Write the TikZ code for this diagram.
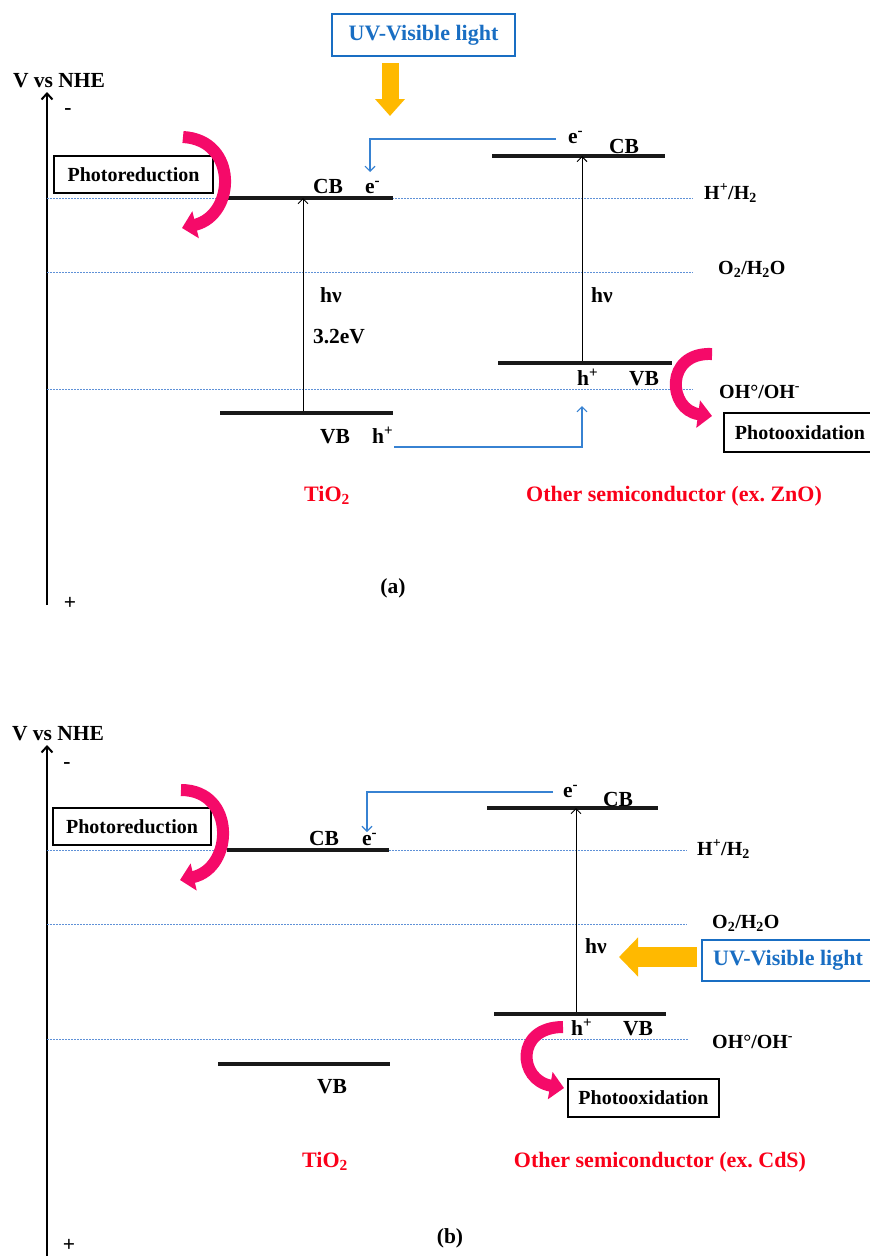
\documentclass[tikz,border=0pt]{standalone}
\usepackage{fontspec}
\setmainfont{Liberation Serif}
\usetikzlibrary{arrows.meta}
\frenchspacing
\definecolor{redoxblue}{RGB}{95,145,215}
\definecolor{linkblue}{RGB}{55,130,210}
\definecolor{uvblue}{RGB}{25,110,195}
\definecolor{sunyellow}{RGB}{255,185,0}
\definecolor{hotpink}{RGB}{245,10,105}
\definecolor{labelred}{RGB}{250,0,25}
\tikzset{
  lbl/.style={font=\fontsize{21.5}{24}\selectfont\bfseries, inner sep=0pt},
  smalllbl/.style={font=\fontsize{20}{23}\selectfont\bfseries, inner sep=0pt},
  redlbl/.style={inner sep=0pt, text=labelred, font=\fontsize{22}{25}\selectfont\bfseries},
  vaxis/.style={line width=2pt, -{Straight Barb[length=6pt,width=11pt]}},
  redox/.style={redoxblue, line width=0.8pt, dash pattern=on 2pt off 1pt},
  lvl/.style={line width=3.6pt, black!90},
  excite/.style={line width=1pt, -{Straight Barb[length=5pt,width=10pt]}},
  elink/.style={linkblue, line width=1.1pt, -{Straight Barb[length=5pt,width=10pt]}},
  rbox/.style={draw, line width=1.8pt, fill=white, smalllbl, inner sep=0pt},
  uvbox/.style={draw=uvblue, line width=1.8pt, text=uvblue, inner sep=0pt,
    font=\fontsize{22}{25}\selectfont\bfseries},
  pinkarrow/.style={hotpink, line width=12pt, -{Triangle[length=14pt,width=27pt]}},
  sunarrow/.style={sunyellow, -{Triangle[length=17pt,width=29pt]}}
}
\begin{document}
\begin{tikzpicture}[x=1pt,y=-1pt]
\useasboundingbox (0,0) rectangle (870,1256);
% (a)
\coordinate (botA) at (47,605);
\coordinate (topA) at (47,92);
\draw[vaxis] (botA) -- (topA);
\node[lbl,anchor=base] (nheA) at (59,87) {V vs NHE};
\node[lbl] (negA) at (68,112) {-};
\node[lbl] (posA) at (70,603) {+};
\draw[redox] (47,198) -- (693,198);
\draw[redox] (47,272) -- (693,272);
\draw[redox] (47,389) -- (693,389);
\node[smalllbl,anchor=base west] (hhA) at (704,199) {H\textsuperscript{+}/H\textsubscript{2}};
\node[smalllbl,anchor=base west] (ooA) at (718,274) {O\textsubscript{2}/H\textsubscript{2}O};
\node[smalllbl,anchor=base west] (ohA) at (719,398) {OH°/OH\textsuperscript{-}};
\draw[lvl] (228,198) -- (393,198);
\draw[lvl] (220,413) -- (393,413);
\draw[lvl] (492,156) -- (665,156);
\draw[lvl] (498,363) -- (672,363);
\node[lbl,anchor=base] (cbTiA) at (328,193) {CB};
\node[lbl,anchor=base west] (elTiA) at (365,193) {e\textsuperscript{-}};
\node[lbl,anchor=base] (vbTiA) at (335,443) {VB};
\node[lbl,anchor=base west] (hoTiA) at (372,443) {h\textsuperscript{+}};
\node[lbl,anchor=base] (cbOtA) at (624,153) {CB};
\node[lbl,anchor=base west] (elOtA) at (568,143) {e\textsuperscript{-}};
\node[lbl,anchor=base west] (hoOtA) at (577,385) {h\textsuperscript{+}};
\node[lbl,anchor=base] (vbOtA) at (644,385) {VB};
\coordinate (vbTa) at (303,411); \coordinate (cbTa) at (303,198);
\draw[excite] (vbTa) -- (cbTa);
\coordinate (vbOa) at (582,361); \coordinate (cbOa) at (582,156);
\draw[excite] (vbOa) -- (cbOa);
\node[lbl,anchor=base] (hvTiA) at (331,302) {hν};
\node[lbl,anchor=base] (gapA) at (339,343) {3.2eV};
\node[lbl,anchor=base] (hvOtA) at (602,302) {hν};
\coordinate (eOa) at (556,139); \coordinate (eTa) at (370,172);
\draw[elink] (eOa) -| (eTa);
\coordinate (hTa) at (394,447); \coordinate (hOa) at (582,406);
\draw[elink] (hTa) -| (hOa);
\node[uvbox, minimum width=183, minimum height=42] (uvA) at (423.5,35) {UV-Visible light};
\coordinate (sunAa) at (390,63); \coordinate (sunAb) at (390,116);
\draw[sunarrow, line width=17pt] (sunAa) -- (sunAb);
\node[rbox, minimum width=159, minimum height=37] (redA) at (133.5,174.5) {Photoreduction};
\draw[pinkarrow] (183,137) .. controls (238,140) and (236,215) .. (182,228);
\node[rbox, minimum width=152, minimum height=39] (oxA) at (800,432.5) {Photooxidation};
\draw[pinkarrow] (712,354) .. controls (664,352) and (668,410) .. (712,416);
\node[redlbl,anchor=base] (tiA) at (327,501) {TiO\textsubscript{2}};
\node[redlbl,anchor=base] (otA) at (674,501) {Other semiconductor (ex. ZnO)};
\node[lbl,anchor=base] (capA) at (393,593) {(a)};
% (b)
\coordinate (botB) at (47,1256);
\coordinate (topB) at (47,745);
\draw[vaxis] (botB) -- (topB);
\node[lbl,anchor=base] (nheB) at (58,740) {V vs NHE};
\node[lbl] (negB) at (67,766) {-};
\node[lbl] (posB) at (69,1245) {+};
\draw[redox] (47,850) -- (687,850);
\draw[redox] (47,924) -- (687,924);
\draw[redox] (47,1039) -- (688,1039);
\node[smalllbl,anchor=base west] (hhB) at (697,855) {H\textsuperscript{+}/H\textsubscript{2}};
\node[smalllbl,anchor=base west] (ooB) at (712,928) {O\textsubscript{2}/H\textsubscript{2}O};
\node[smalllbl,anchor=base west] (ohB) at (712,1048) {OH°/OH\textsuperscript{-}};
\draw[lvl] (227,850) -- (389,850);
\draw[lvl] (218,1064) -- (390,1064);
\draw[lvl] (487,808) -- (658,808);
\draw[lvl] (494,1014) -- (666,1014);
\node[lbl,anchor=base] (cbTiB) at (324,845) {CB};
\node[lbl,anchor=base west] (elTiB) at (362,845) {e\textsuperscript{-}};
\node[lbl,anchor=base] (vbTiB) at (332,1093) {VB};
\node[lbl,anchor=base] (cbOtB) at (618,806) {CB};
\node[lbl,anchor=base west] (elOtB) at (563,797) {e\textsuperscript{-}};
\node[lbl,anchor=base west] (hoOtB) at (571,1035) {h\textsuperscript{+}};
\node[lbl,anchor=base] (vbOtB) at (638,1035) {VB};
\coordinate (vbOb) at (576,1012); \coordinate (cbOb) at (576,808);
\draw[excite] (vbOb) -- (cbOb);
\node[lbl,anchor=base] (hvOtB) at (596,953) {hν};
\coordinate (eOb) at (553,792); \coordinate (eTb) at (367,832);
\draw[elink] (eOb) -| (eTb);
\node[uvbox, minimum width=172, minimum height=41] (uvB) at (788,960.5) {UV-Visible light};
\coordinate (sunBa) at (697,957); \coordinate (sunBb) at (619,957);
\draw[sunarrow, line width=20pt, -{Triangle[length=19pt,width=38pt]}] (sunBa) -- (sunBb);
\node[rbox, minimum width=158, minimum height=37] (redB) at (132,826.5) {Photoreduction};
\draw[pinkarrow] (181,790) .. controls (236,790) and (234,868) .. (180,880);
\node[rbox, minimum width=151, minimum height=38] (oxB) at (643.5,1098) {Photooxidation};
\draw[pinkarrow] (563,1027) .. controls (515,1027) and (518,1080) .. (564,1088);
\node[redlbl,anchor=base] (tiB) at (325,1167) {TiO\textsubscript{2}};
\node[redlbl,anchor=base] (otB) at (660,1167) {Other semiconductor (ex. CdS)};
\node[lbl,anchor=base] (capB) at (450,1243) {(b)};
\end{tikzpicture}
\end{document}
